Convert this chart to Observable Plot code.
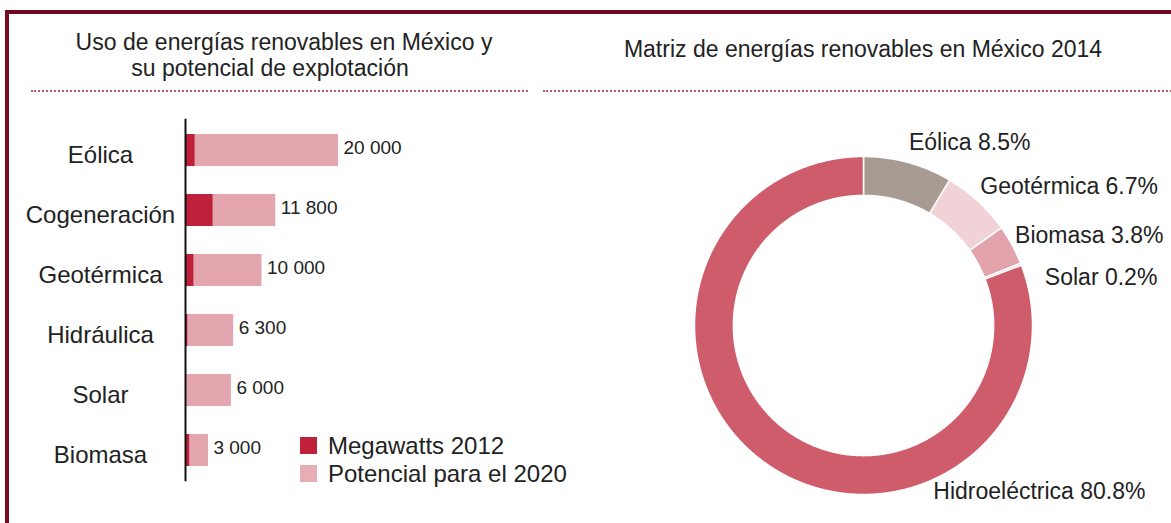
<!DOCTYPE html>
<html>
<head>
<meta charset="utf-8">
<script src="https://cdn.jsdelivr.net/npm/d3@7"></script>
<script src="https://cdn.jsdelivr.net/npm/@observablehq/plot@0.6"></script>
<style>
  html, body { margin: 0; padding: 0; background: #fff; }
  #root { position: relative; width: 1171px; height: 523px; overflow: hidden; background: #fff;
          font-family: "Liberation Sans", Arial, sans-serif; color: #222; }
  .frame { position: absolute; left: 5px; top: 10px; width: 1200px; height: 600px;
           border-left: 4px solid #7a0c22; border-top: 4px solid #6e0a1e; box-sizing: border-box; }
  .dots { position: absolute; height: 0; border-top: 2px dotted #b3596a; }
  .title { position: absolute; font-size: 23px; white-space: nowrap; transform: translateX(-50%); line-height: 1; }
  .plot { position: absolute; top: 0; }
  .leg { position: absolute; font-size: 24px; line-height: 1; white-space: nowrap; }
  .sw { position: absolute; width: 17px; height: 17px; }
</style>
</head>
<body>
<div id="root">
  <div class="frame"></div>
  <div class="title" style="left:284px; top:31px;">Uso de energías renovables en México y</div>
  <div class="title" style="left:270px; top:57px;">su potencial de explotación</div>
  <div class="title" style="left:863px; top:38px;">Matriz de energías renovables en México 2014</div>
  <div class="dots" style="left:31px; width:497px; top:90px;"></div>
  <div class="dots" style="left:543px; width:640px; top:90px;"></div>
  <div id="left" class="plot" style="left:0px;"></div>
  <div id="right" class="plot" style="left:590px;"></div>
  <div id="legend"></div>
</div>
<script>
// ---- Data: left chart ----
const categories = ["Eólica", "Cogeneración", "Geotérmica", "Hidráulica", "Solar", "Biomasa"];
const megawatts2012 = [1250, 3600, 1100, 300, 30, 550];
const potencial2020 = [20000, 11800, 10000, 6300, 6000, 3000];
const potencialLabels = ["20 000", "11 800", "10 000", "6 300", "6 000", "3 000"];
const seriesNames = ["Megawatts 2012", "Potencial para el 2020"];

// ---- Data: right chart ----
const matrixSources = ["Eólica", "Geotérmica", "Biomasa", "Solar", "Hidroeléctrica"];
const matrixShares = [8.5, 6.7, 3.8, 0.2, 80.8];
const matrixLabels = ["Eólica 8.5%", "Geotérmica 6.7%", "Biomasa 3.8%", "Solar 0.2%", "Hidroeléctrica 80.8%"];

const colMW = "#c0213a", colPot = "#e3a6ae";
const sliceColors = ["#a79b93", "#f1d3d7", "#e3a3ac", "#e8aab3", "#cf5c6b"];
const textColor = "#222";
const font = "'Liberation Sans', Arial, sans-serif";

const rows = categories.map((c, i) => ({cat: c, mw: megawatts2012[i], pot: potencial2020[i], label: potencialLabels[i]}));

const left = Plot.plot({
  width: 590, height: 523,
  marginLeft: 185, marginRight: 252, marginTop: 118.8, marginBottom: 41.8,
  style: {fontFamily: font, background: "transparent"},
  x: {domain: [0, 20000], axis: null},
  y: {domain: categories, axis: null, paddingInner: 0.47, paddingOuter: 0.235},
  marks: [
    Plot.barX(rows, {x: "pot", y: "cat", fill: colPot}),
    Plot.barX(rows, {x: "mw", y: "cat", fill: colMW}),
    Plot.ruleX([0], {stroke: "#111", strokeWidth: 2}),
    Plot.text(rows, {x: "pot", y: "cat", text: "label", textAnchor: "start", dx: 5, dy: -3, fontSize: 19, fill: textColor}),
    Plot.text(rows, {x: () => 0, y: "cat", text: "cat", textAnchor: "middle", dx: -85, dy: 5, fontSize: 24, fill: textColor})
  ]
});
document.getElementById("left").appendChild(left);

// legend
const legend = document.getElementById("legend");
[[colMW, 437], ["#e7adb5", 465]].forEach(([c, top], i) => {
  const sw = document.createElement("div");
  sw.className = "sw"; sw.style.left = "300px"; sw.style.top = top + "px"; sw.style.background = c;
  legend.appendChild(sw);
  const t = document.createElement("div");
  t.className = "leg"; t.style.left = "328px"; t.style.top = (top - 3) + "px"; t.textContent = seriesNames[i];
  legend.appendChild(t);
});

// ---- Donut ----
const matrix = matrixSources.map((s, i) => ({name: s, share: matrixShares[i], label: matrixLabels[i]}));
const arcs = d3.pie().sort(null).value(d => d.share)(matrix);
const inner = 0.77;
const ringPts = arcs.flatMap(a => {
  const n = Math.max(2, Math.ceil((a.endAngle - a.startAngle) / 0.005));
  const pts = [];
  for (let k = 0; k <= n; k++) {
    const t = a.startAngle + (a.endAngle - a.startAngle) * k / n;
    pts.push({name: a.data.name, x: Math.sin(t), y: Math.cos(t)});
  }
  for (let k = n; k >= 0; k--) {
    const t = a.startAngle + (a.endAngle - a.startAngle) * k / n;
    pts.push({name: a.data.name, x: inner * Math.sin(t), y: inner * Math.cos(t)});
  }
  return pts;
});
// outside labels for the small slices, dodged vertically (and pushed outward) so they do not overlap
const small = [];
arcs.filter(a => a.data.share < 50).forEach(a => {
  const m = (a.startAngle + a.endAngle) / 2;
  const y0 = 1.12 * Math.cos(m);
  let y = y0;
  if (small.length) y = Math.min(y, small[small.length - 1].y - 0.25);
  small.push({label: a.data.label, x: 1.02 * Math.sin(m) + (y0 - y), y});
});
const big = arcs.filter(a => a.data.share >= 50).map(a => a.data);

const right = Plot.plot({
  width: 581, height: 523,
  marginLeft: 104, marginRight: 139, marginTop: 156, marginBottom: 29,
  style: {fontFamily: font, background: "transparent", overflow: "visible"},
  x: {domain: [-1, 1], axis: null},
  y: {domain: [-1, 1], axis: null},
  color: {domain: matrixSources, range: sliceColors},
  marks: [
    Plot.line(ringPts, {x: "x", y: "y", z: "name", fill: "name", stroke: "white", strokeWidth: 1.5, curve: "linear-closed"}),
    Plot.text(small, {x: "x", y: "y", text: "label", textAnchor: "start", fontSize: 23, fill: textColor}),
    Plot.text(big, {frameAnchor: "bottom-right", text: "label", textAnchor: "end", dx: 113, dy: 4, fontSize: 23, fill: textColor})
  ]
});
document.getElementById("right").appendChild(right);
</script>
</body>
</html>
